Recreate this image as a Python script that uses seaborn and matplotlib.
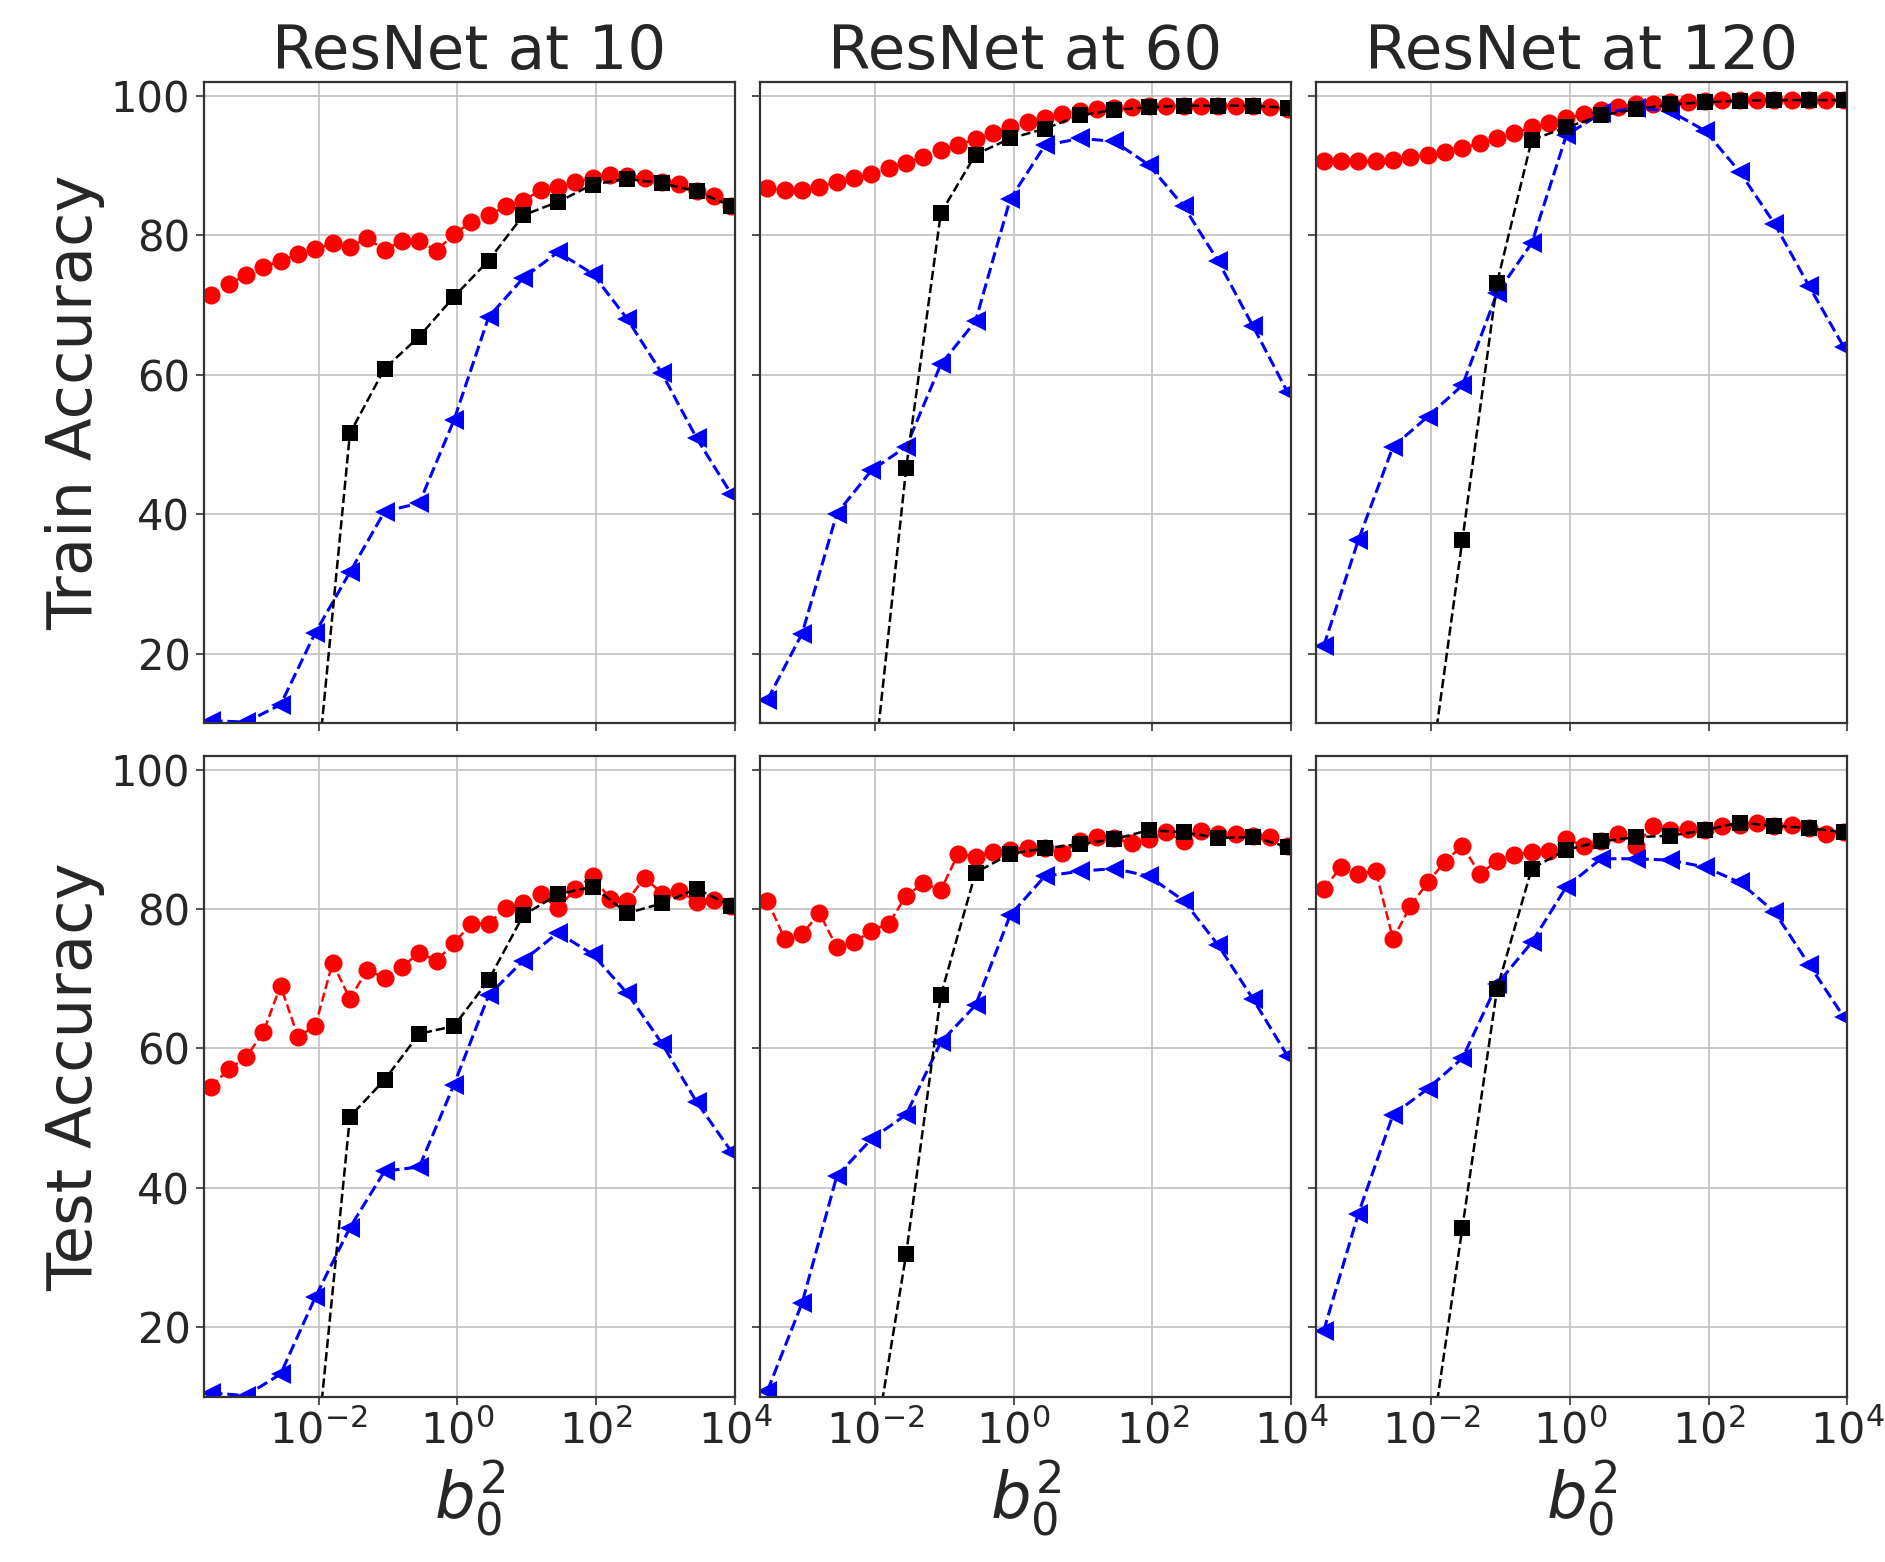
import matplotlib
matplotlib.use("Agg")
import matplotlib.pyplot as plt
import matplotlib.ticker as mticker
import numpy as np
import seaborn as sns

# x positions (log10 of b0^2)
circle_exp = [-3.55, -3.30, -3.05, -2.80, -2.55, -2.30, -2.05, -1.80, -1.55, -1.30,
              -1.05, -0.80, -0.55, -0.30, -0.05, 0.20, 0.45, 0.70, 0.95, 1.20,
              1.45, 1.70, 1.95, 2.20, 2.45, 2.70, 2.95, 3.20, 3.45, 3.70, 3.95]
triangle_exp = [-3.55, -3.05, -2.55, -2.05, -1.55, -1.05, -0.55, -0.05,
                0.45, 0.95, 1.45, 1.95, 2.45, 2.95, 3.45, 3.95]
square_exp = [-2.05, -1.55, -1.05, -0.55, -0.05, 0.45, 0.95,
              1.45, 1.95, 2.45, 2.95, 3.45, 3.95]

titles = ["ResNet at 10", "ResNet at 60", "ResNet at 120"]
row_labels = ["Train Accuracy", "Test Accuracy"]

# train accuracy
train10_circle = [71.4, 73.0, 74.3, 75.5, 76.3, 77.3, 78.0, 78.9, 78.4, 79.6,
                  77.9, 79.2, 79.2, 77.8, 80.2, 81.9, 82.9, 84.2, 85.0, 86.5,
                  87.0, 87.7, 88.2, 88.7, 88.5, 88.3, 87.7, 87.4, 86.3, 85.6, 84.2]
train10_square = [0.0, 51.6, 60.9, 65.5, 71.2, 76.4, 82.9, 84.8, 87.3, 88.1, 87.5, 86.3, 84.2]
train10_triangle = [10.4, 10.2, 12.7, 23.0, 31.7, 40.4, 41.6, 53.5,
                    68.3, 73.9, 77.6, 74.5, 68.0, 60.2, 50.9, 42.9]

train60_circle = [86.8, 86.5, 86.5, 87.0, 87.6, 88.2, 88.8, 89.6, 90.4, 91.2,
                  92.2, 93.0, 93.8, 94.7, 95.5, 96.3, 96.9, 97.4, 97.8, 98.1,
                  98.3, 98.4, 98.6, 98.6, 98.6, 98.6, 98.6, 98.6, 98.6, 98.4, 98.1]
train60_square = [0.0, 46.6, 83.2, 91.6, 93.9, 95.3, 97.2, 98.0, 98.4, 98.6, 98.6, 98.6, 98.3]
train60_triangle = [13.4, 22.9, 40.1, 46.3, 49.7, 61.5, 67.7, 85.2,
                    92.9, 93.9, 93.5, 90.1, 84.2, 76.3, 67.0, 57.5]

train120_circle = [90.7, 90.6, 90.6, 90.7, 90.8, 91.2, 91.6, 92.0, 92.5, 93.2,
                   93.9, 94.7, 95.5, 96.1, 96.8, 97.4, 98.0, 98.4, 98.8, 98.9,
                   99.1, 99.2, 99.3, 99.4, 99.4, 99.4, 99.4, 99.4, 99.4, 99.4, 99.4]
train120_square = [0.0, 36.3, 73.2, 93.7, 95.5, 97.2, 98.1, 98.8, 99.1, 99.3, 99.4, 99.4, 99.4]
train120_triangle = [21.1, 36.3, 49.7, 54.0, 58.5, 71.7, 78.9, 94.4,
                     97.5, 98.3, 97.8, 95.0, 89.1, 81.7, 72.7, 64.0]

# test accuracy
test10_circle = [54.5, 57.0, 58.7, 62.3, 69.0, 61.7, 63.2, 72.3, 67.1, 71.3,
                 70.1, 71.7, 73.7, 72.6, 75.1, 77.9, 77.9, 80.2, 80.8, 82.1,
                 80.1, 82.9, 84.7, 81.4, 81.2, 84.5, 82.2, 82.6, 81.0, 81.3, 80.4]
test10_square = [0.0, 50.2, 55.5, 62.1, 63.2, 69.8, 79.1, 82.1, 83.2, 79.4, 80.8, 82.9, 80.4]
test10_triangle = [10.6, 10.2, 13.3, 24.3, 34.3, 42.4, 43.0, 54.8,
                   67.6, 72.6, 76.6, 73.5, 67.9, 60.7, 52.3, 45.2]

test60_circle = [81.2, 75.7, 76.4, 79.4, 74.5, 75.2, 76.9, 77.9, 81.9, 83.7,
                 82.7, 87.9, 87.5, 88.2, 88.5, 88.8, 88.8, 88.0, 89.7, 90.3,
                 90.2, 89.4, 90.0, 91.0, 89.7, 91.2, 90.7, 90.8, 90.5, 90.3, 89.1]
test60_square = [0.0, 30.5, 67.6, 85.2, 87.9, 88.7, 89.3, 90.0, 91.3, 91.0, 90.2, 90.3, 88.9]
test60_triangle = [10.9, 23.5, 41.7, 47.0, 50.5, 60.9, 66.2, 79.1,
                   84.7, 85.4, 85.8, 84.7, 81.2, 74.8, 67.1, 58.9]

test120_circle = [82.9, 86.0, 85.0, 85.5, 75.7, 80.4, 83.8, 86.8, 89.1, 85.0,
                  86.9, 87.8, 88.2, 88.3, 90.0, 89.1, 89.7, 90.8, 89.1, 91.9,
                  91.3, 91.4, 91.3, 91.9, 92.0, 92.4, 91.9, 92.0, 91.6, 90.8, 91.0]
test120_square = [0.0, 34.3, 68.5, 85.8, 88.5, 89.7, 90.3, 90.5, 91.3, 92.4, 91.9, 91.6, 91.0]
test120_triangle = [19.5, 36.3, 50.5, 54.2, 58.6, 69.2, 75.2, 83.2,
                    87.2, 87.2, 87.0, 86.0, 83.8, 79.6, 72.0, 64.5]

panels = [
    [(train10_circle, train10_square, train10_triangle),
     (train60_circle, train60_square, train60_triangle),
     (train120_circle, train120_square, train120_triangle)],
    [(test10_circle, test10_square, test10_triangle),
     (test60_circle, test60_square, test60_triangle),
     (test120_circle, test120_square, test120_triangle)],
]

sns.set_style("white")
plt.rcParams["font.family"] = ["DejaVu Sans"]
plt.rcParams["mathtext.fontset"] = "dejavusans"

fig, axes = plt.subplots(2, 3, figsize=(18.85, 15.62), dpi=100, sharex=True, sharey=True)
fig.subplots_adjust(left=0.108, right=0.980, top=0.9475, bottom=0.1056,
                    wspace=0.047, hspace=0.05)

x_circle = 10.0 ** np.array(circle_exp)
x_square = 10.0 ** np.array(square_exp)
x_triangle = 10.0 ** np.array(triangle_exp)

for r in range(2):
    for c in range(3):
        ax = axes[r, c]
        ax.set_xscale("log")
        circ, sq, tri = panels[r][c]
        sns.lineplot(x=x_circle, y=circ, ax=ax, color="#ff0000", marker="o",
                     markersize=13, markeredgewidth=0, linestyle="--", linewidth=1.8)
        sns.lineplot(x=x_triangle, y=tri, ax=ax, color="#0000ff", marker="<",
                     markersize=14, markeredgewidth=0, linestyle="--", linewidth=2.2)
        sns.lineplot(x=x_square, y=sq, ax=ax, color="black", marker="s",
                     markersize=11.5, markeredgewidth=0, linestyle="--", linewidth=1.8)

        ax.set_xlim(10 ** -3.66, 10 ** 4.0)
        ax.set_ylim(10, 102)
        ax.set_yticks([20, 40, 60, 80, 100])
        ax.set_xticks([1e-2, 1e0, 1e2, 1e4])
        ax.xaxis.set_minor_locator(mticker.NullLocator())
        ax.grid(True, which="major", color="#c0c0c0", linewidth=1.2)
        for sp in ax.spines.values():
            sp.set_color("#333333")
            sp.set_linewidth(1.6)
        ax.tick_params(axis="both", which="major", length=6,
                       width=1.2, color="#333333", left=True, bottom=True)
        ax.tick_params(axis="y", labelsize=30)
        ax.tick_params(axis="x", labelsize=31)
        if r == 0:
            ax.set_title(titles[c], fontsize=44, pad=8)
        else:
            ax.set_xlabel(r"$b_0^2$", fontsize=46)
        if c == 0:
            ax.set_ylabel(row_labels[r], fontsize=45)

fig.savefig("out.png", dpi=100)
